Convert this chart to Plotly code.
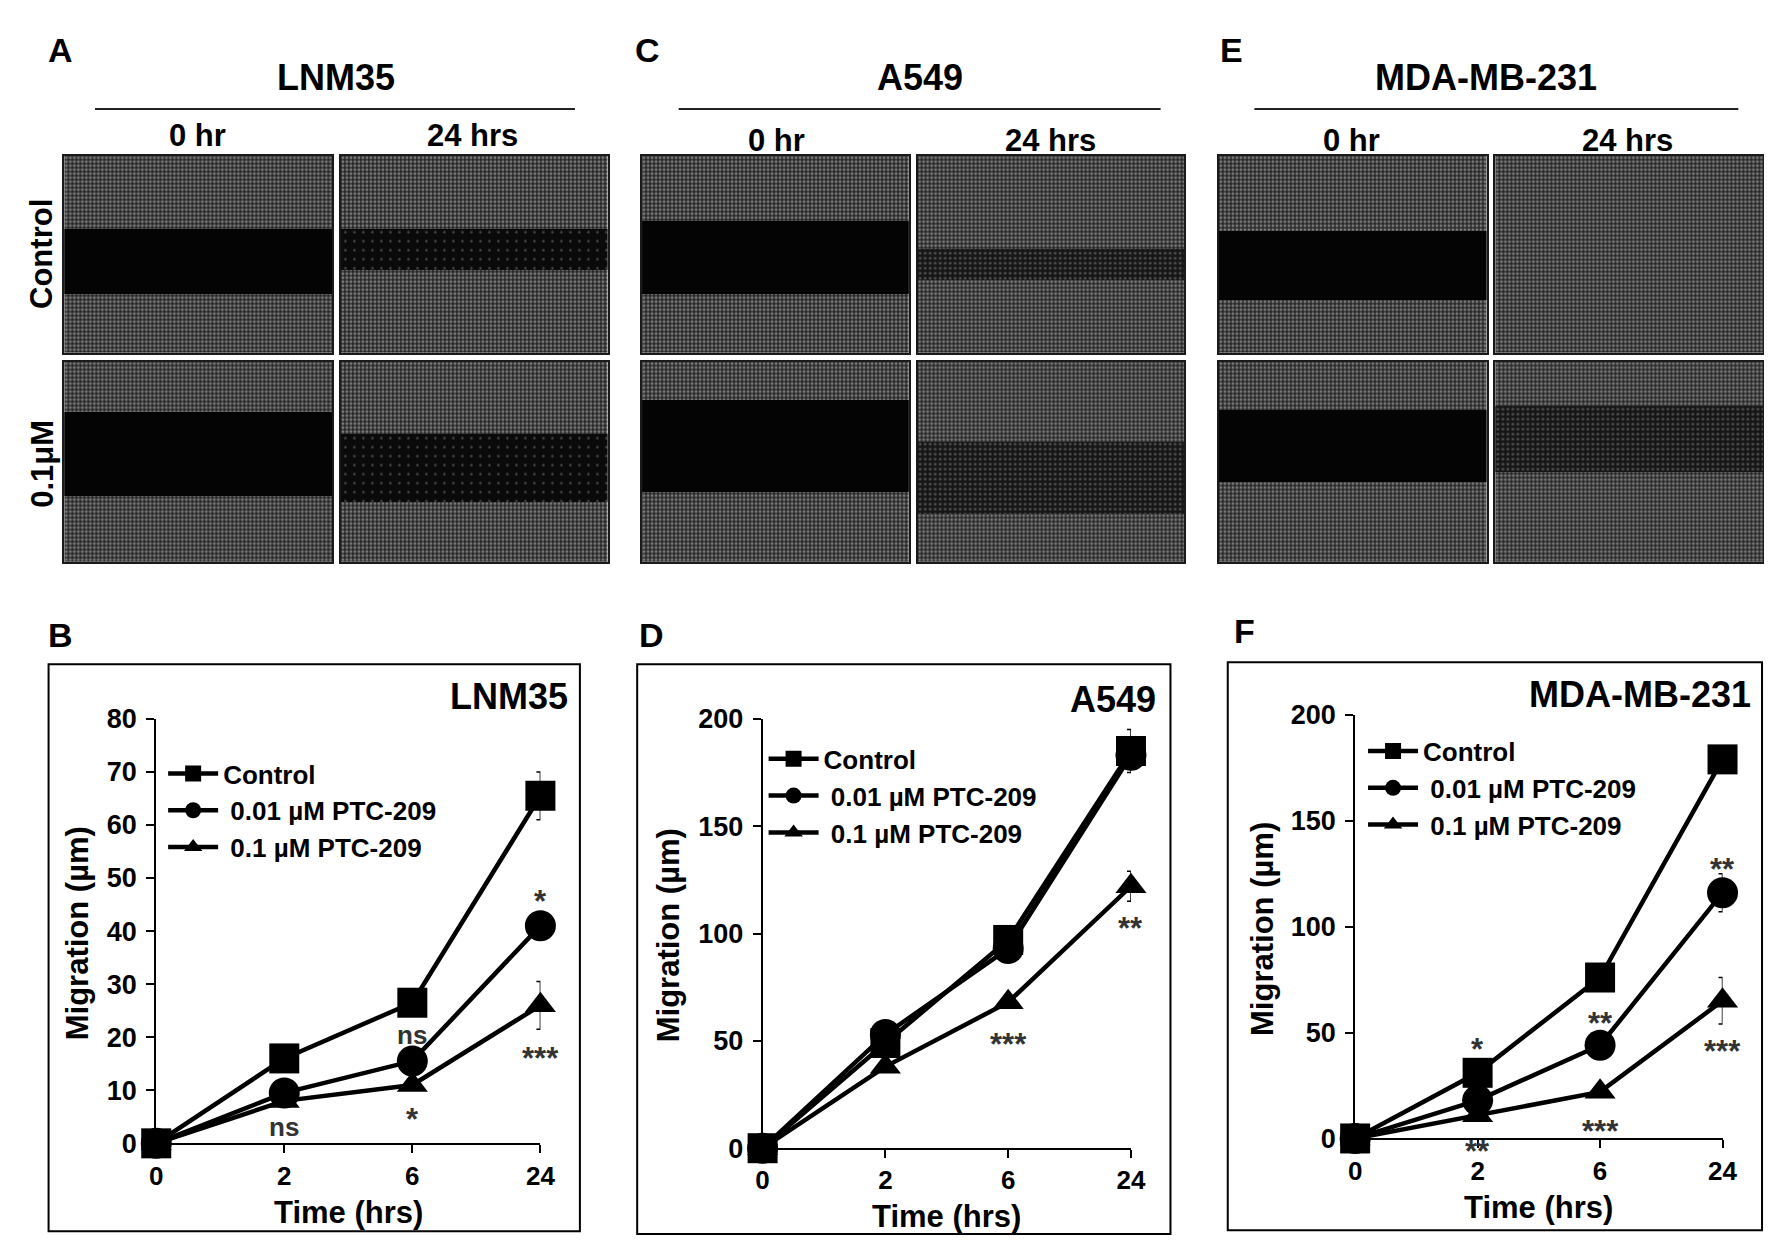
"""
Wound-healing (scratch) assay figure: PTC-209 slows migration of
LNM35, A549 and MDA-MB-231 cells.

Top row    : schematic microscope fields (0 hr / 24 hrs, Control / 0.1 uM)
Bottom row : migration distance vs. time for the three cell lines
"""

import plotly.graph_objects as go

# ---------------------------------------------------------------------------
# Data
# ---------------------------------------------------------------------------
TIME_LABELS = ["0", "2", "6", "24"]
SERIES_NAMES = ["Control", " 0.01 µM PTC-209", " 0.1 µM PTC-209"]

LNM35_CONTROL = [0, 16, 26.5, 65.5]
LNM35_CONTROL_ERR = [0, 1, 2.5, 4.5]
LNM35_LOW = [0, 9.5, 15.5, 41]
LNM35_LOW_ERR = [0, 1, 1, 1.5]
LNM35_HIGH = [0, 8, 11, 26]
LNM35_HIGH_ERR = [0, 1, 1, 4.5]

A549_CONTROL = [0, 49, 97, 185]
A549_CONTROL_ERR = [0, 2, 3, 10]
A549_LOW = [0, 53, 93, 183]
A549_LOW_ERR = [0, 2, 2, 4]
A549_HIGH = [0, 38, 68, 122]
A549_HIGH_ERR = [0, 2, 2, 7]

MDA_CONTROL = [0, 31, 76, 179]
MDA_CONTROL_ERR = [0, 2, 2, 2]
MDA_LOW = [0, 18, 44, 116]
MDA_LOW_ERR = [0, 1, 2, 9]
MDA_HIGH = [0, 11, 22, 65]
MDA_HIGH_ERR = [0, 1, 1, 11]

# significance marks: (time, migration level, label)
LNM35_SIG = [("2", 3, "ns"), ("6", 20.5, "ns"), ("6", 6, "*"),
             ("24", 47, "*"), ("24", 17.5, "***")]
A549_SIG = [("6", 52, "***"), ("24", 106, "**")]
MDA_SIG = [("2", 46, "*"), ("2", -2.5, "**"), ("6", 58, "**"),
           ("6", 7, "***"), ("24", 131, "**"), ("24", 45, "***")]

# microscope fields
CELL_LINES = ["LNM35", "A549", "MDA-MB-231"]
IMG_TIMES = ["0 hr", "24 hrs"]
IMG_ROWS = ["Control", "0.1μM"]
# wound gap edges as fraction of field height, [line][row][time]
GAP_BOTTOM = [[[0.30, 0.42], [0.33, 0.30]],
              [[0.30, 0.37], [0.35, 0.24]],
              [[0.27, None], [0.40, 0.45]]]
GAP_TOP = [[[0.63, 0.63], [0.75, 0.64]],
           [[0.67, 0.53], [0.81, 0.60]],
           [[0.62, None], [0.76, 0.78]]]

# ---------------------------------------------------------------------------
# Styling / geometry (pixels on a 1772 x 1245 canvas)
# ---------------------------------------------------------------------------
W, H = 1772, 1245
FONT = "Liberation Sans, Arial, sans-serif"

IMG_COLS = [[(50, 321), (330, 600)],
            [(635, 905), (914, 1184)],
            [(1219, 1490), (1499, 1770)]]
IMG_ROW_Y = [(136, 338), (347, 552)]
# gap look per [line][row][time]: open = black, sparse = few cells, faint = half closed
GAP_LOOK = [[["open", "sparse"], ["open", "sparse"]],
            [["open", "faint"], ["open", "faint"]],
            [["open", None], ["open", "faint"]]]

HEADERS = [
    dict(letter="A", letter_xy=(46, 28), title_xy=(325, 56), rule=(81, 567),
         times=[(185, 115), (463, 115)]),
    dict(letter="C", letter_xy=(640, 28), title_xy=(916, 56), rule=(672, 1160),
         times=[(771, 120), (1049, 120)]),
    dict(letter="E", letter_xy=(1232, 28), title_xy=(1489, 56), rule=(1255, 1745),
         times=[(1353, 120), (1633, 120)]),
]

CHARTS = [
    dict(letter="B", letter_xy=(46, 627), box=(34, 657, 572, 1238),
         xdom=(143, 532), ydom=(713, 1148), ymax=80, dtick=10,
         ytitle_x=63, xtitle_y=1219, title_xy=(562, 690), legend_xy=(150, 745),
         series=[(LNM35_CONTROL, LNM35_CONTROL_ERR), (LNM35_LOW, LNM35_LOW_ERR),
                 (LNM35_HIGH, LNM35_HIGH_ERR)], sig=LNM35_SIG),
    dict(letter="D", letter_xy=(645, 627), box=(630, 657, 1170, 1241),
         xdom=(757, 1130), ydom=(713, 1153), ymax=200, dtick=50,
         ytitle_x=662, xtitle_y=1223, title_xy=(1157, 693), legend_xy=(758, 730),
         series=[(A549_CONTROL, A549_CONTROL_ERR), (A549_LOW, A549_LOW_ERR),
                 (A549_HIGH, A549_HIGH_ERR)], sig=A549_SIG),
    dict(letter="F", letter_xy=(1245, 623), box=(1228, 655, 1769, 1237),
         xdom=(1357, 1729), ydom=(709, 1143), ymax=200, dtick=50,
         ytitle_x=1263, xtitle_y=1214, title_xy=(1760, 688), legend_xy=(1365, 722),
         series=[(MDA_CONTROL, MDA_CONTROL_ERR), (MDA_LOW, MDA_LOW_ERR),
                 (MDA_HIGH, MDA_HIGH_ERR)], sig=MDA_SIG),
]

SYMBOLS = ["square", "circle", "triangle-up"]
SIZES = [30, 31, 27]


def px(x):
    return x / W


def py(y):
    return 1 - y / H


def text_ann(text, x, y, size, bold=True, angle=0, xanchor="center", color="black"):
    return dict(text=text, x=px(x), y=py(y), xref="paper", yref="paper",
                xanchor=xanchor, yanchor="middle", showarrow=False, textangle=angle,
                font=dict(family=FONT, size=size, color=color,
                          weight="bold" if bold else "normal"))


fig = go.Figure()
layout = dict(annotations=[], shapes=[])

# ── line charts ─────────────────────────────────────────────────────────────
for i, ch in enumerate(CHARTS):
    n = i + 1
    xa, ya = ("x", "y") if n == 1 else (f"x{n}", f"y{n}")
    leg = "legend" if n == 1 else f"legend{n}"

    # reversed order so the Control squares sit on top
    for k in (2, 1, 0):
        vals, err = ch["series"][k]
        fig.add_trace(go.Scatter(
            x=TIME_LABELS, y=vals, name=SERIES_NAMES[k], mode="lines+markers",
            line=dict(color="black", width=4.5),
            marker=dict(symbol=SYMBOLS[k], size=SIZES[k], color="black", line_width=0),
            error_y=dict(type="data", array=err, color="black", thickness=1.5, width=4),
            cliponaxis=False, xaxis=xa, yaxis=ya, legend=leg,
        ))

    layout["xaxis" if n == 1 else f"xaxis{n}"] = dict(
        domain=[px(ch["xdom"][0]), px(ch["xdom"][1])], anchor=ya,
        type="category", range=[0, len(TIME_LABELS) - 1],
        showline=True, linecolor="black", linewidth=2, showgrid=False,
        zeroline=False, ticks="outside", ticklen=8, tickwidth=2, tickcolor="black",
        ticklabelstandoff=0,
        tickfont=dict(family=FONT, size=26, color="black", weight="bold"),
    )
    layout["yaxis" if n == 1 else f"yaxis{n}"] = dict(
        domain=[py(ch["ydom"][1]), py(ch["ydom"][0])], anchor=xa,
        range=[0, ch["ymax"]], dtick=ch["dtick"],
        showline=True, linecolor="black", linewidth=2, showgrid=False,
        zeroline=False, ticks="outside", ticklen=8, tickwidth=2, tickcolor="black",
        ticklabelstandoff=4,
        tickfont=dict(family=FONT, size=27, color="black", weight="bold"),
    )
    layout[leg] = dict(
        x=px(ch["legend_xy"][0]), y=py(ch["legend_xy"][1]),
        xanchor="left", yanchor="top", bgcolor="rgba(0,0,0,0)",
        traceorder="reversed", tracegroupgap=0, itemwidth=50,
        font=dict(family=FONT, size=26, color="black", weight="bold"),
    )

    x0, y0, x1, y1 = ch["box"]
    layout["shapes"].append(dict(type="rect", xref="paper", yref="paper",
                                 x0=px(x0), x1=px(x1), y0=py(y1), y1=py(y0),
                                 line=dict(color="black", width=2)))
    anns = layout["annotations"]
    anns.append(text_ann(ch["letter"], *ch["letter_xy"], 34))
    anns.append(text_ann(CELL_LINES[i], ch["title_xy"][0], ch["title_xy"][1], 36,
                         xanchor="right"))
    anns.append(text_ann("Migration (µm)", ch["ytitle_x"],
                         (ch["ydom"][0] + ch["ydom"][1]) / 2 + 2, 31, angle=-90))
    anns.append(text_ann("Time (hrs)", (ch["xdom"][0] + ch["xdom"][1]) / 2,
                         ch["xtitle_y"], 31))

    # pixels per data unit, so marks just below zero can be offset from the axis
    unit_px = (ch["ydom"][1] - ch["ydom"][0]) / ch["ymax"]
    for t, yv, label in ch["sig"]:
        star = label != "ns"
        shift = -8 if star else 0
        if yv < 0:
            shift += yv * unit_px
        anns.append(dict(
            text=label, x=TIME_LABELS.index(t), y=max(yv, 0), xref=xa, yref=ya,
            showarrow=False, yshift=shift,
            font=dict(family=FONT, size=31 if star else 26, color="#333333",
                      weight="bold"),
        ))

# ── microscope fields ───────────────────────────────────────────────────────
cell_texture = dict(shape=".", fgcolor="#cfcfcf", bgcolor="#262626", size=4, solidity=0.42)
gap_texture = {
    "open": dict(shape="", bgcolor="#040404"),
    "sparse": dict(shape=".", fgcolor="#8a8a8a", bgcolor="#0a0a0a", size=9, solidity=0.06),
    "faint": dict(shape=".", fgcolor="#9a9a9a", bgcolor="#161616", size=5, solidity=0.22),
}

ax_n = len(CHARTS)
for li in range(len(CELL_LINES)):
    hdr = HEADERS[li]
    anns = layout["annotations"]
    anns.append(text_ann(hdr["letter"], *hdr["letter_xy"], 34))
    anns.append(text_ann(CELL_LINES[li], *hdr["title_xy"], 36))
    for ti, (tx, ty) in enumerate(hdr["times"]):
        anns.append(text_ann(IMG_TIMES[ti], tx, ty, 31))
    layout["shapes"].append(dict(type="line", xref="paper", yref="paper",
                                 x0=px(hdr["rule"][0]), x1=px(hdr["rule"][1]),
                                 y0=py(88), y1=py(88),
                                 line=dict(color="#222222", width=2)))

    for ri in range(len(IMG_ROWS)):
        for ti in range(len(IMG_TIMES)):
            ax_n += 1
            xa, ya = f"x{ax_n}", f"y{ax_n}"
            fig.add_trace(go.Bar(
                x=[0.5], y=[1], base=[0], width=[1], xaxis=xa, yaxis=ya,
                marker=dict(color="#262626", line_width=0, pattern=cell_texture),
                showlegend=False, hoverinfo="skip",
            ))
            lo, hi = GAP_BOTTOM[li][ri][ti], GAP_TOP[li][ri][ti]
            look = GAP_LOOK[li][ri][ti]
            if lo is not None:
                fig.add_trace(go.Bar(
                    x=[0.5], y=[hi - lo], base=[lo], width=[1], xaxis=xa, yaxis=ya,
                    marker=dict(color=gap_texture[look]["bgcolor"], line_width=0,
                                pattern=gap_texture[look]),
                    showlegend=False, hoverinfo="skip",
                ))
            cx0, cx1 = IMG_COLS[li][ti]
            ry0, ry1 = IMG_ROW_Y[ri]
            frame = dict(showline=True, mirror=True, linecolor="#1a1a1a", linewidth=2,
                         showgrid=False, zeroline=False, showticklabels=False,
                         ticks="", range=[0, 1], fixedrange=True)
            layout[f"xaxis{ax_n}"] = dict(frame, domain=[px(cx0), px(cx1)], anchor=ya)
            layout[f"yaxis{ax_n}"] = dict(frame, domain=[py(ry1), py(ry0)], anchor=xa)

# row labels of the microscope grid
layout["annotations"].append(text_ann("Control", 27, 237, 31, angle=-90))
layout["annotations"].append(text_ann("0.1μM", 27, 452, 31, angle=-90))

fig.update_layout(
    **layout,
    width=W, height=H,
    margin=dict(l=0, r=0, t=0, b=0),
    paper_bgcolor="white", plot_bgcolor="white",
    barmode="overlay", bargap=0,
    font=dict(family=FONT, color="black"),
)

fig.write_html("out.html")
